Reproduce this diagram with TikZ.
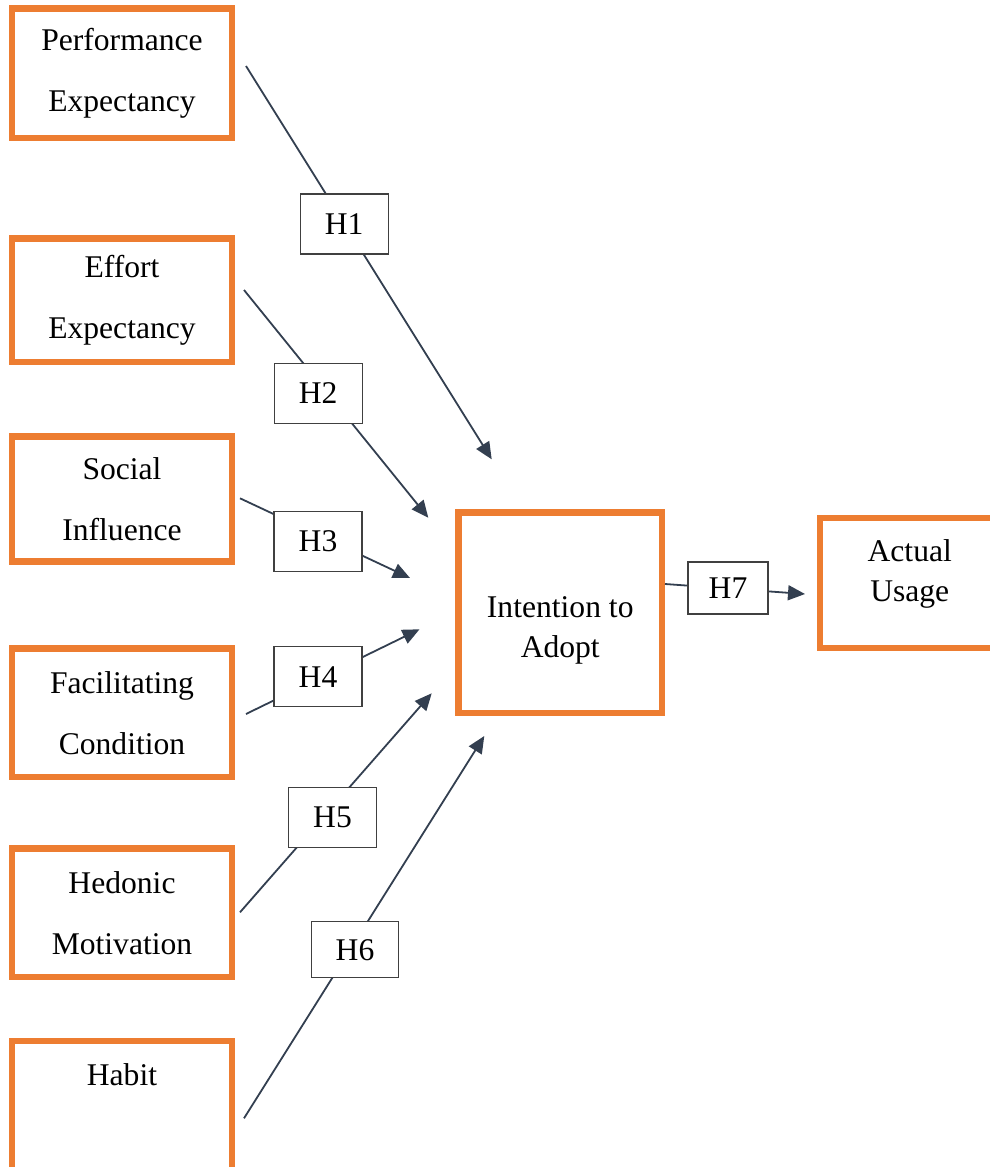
\documentclass[tikz,border=0pt]{standalone}
\usepackage{fontspec}
\setmainfont{Liberation Serif}
\usetikzlibrary{arrows.meta}
\definecolor{boxorange}{HTML}{ED7D31}
\definecolor{linkblue}{HTML}{333F50}
\begin{document}
\begin{tikzpicture}[x=1pt,y=-1pt,
	construct/.style={draw=boxorange,line width=6.5pt,fill=white,inner sep=0pt,
		minimum width=220pt,align=center,font=\fontsize{31.6}{61}\selectfont},
	label text/.style={align=center,inner sep=0pt,font=\fontsize{31.6}{40}\selectfont},
	hyp/.style={draw=black!75,line width=1.2pt,fill=white,inner sep=0pt,
		minimum width=88pt,minimum height=60pt,font=\fontsize{31.6}{38}\selectfont},
	link/.style={draw=linkblue,line width=1.8pt,-{Triangle[length=17pt,width=15pt]}}]
	\useasboundingbox (0,0) rectangle (990,1167);

	% determinants
	\node[construct,minimum height=129.5pt] (pe) at (122,73.25) {Performance\\Expectancy};
	\node[construct,minimum height=123.5pt] (ee) at (122,300.25) {Effort\\Expectancy};
	\node[construct,minimum height=125pt] (si) at (122,499) {Social\\Influence};
	\node[construct,minimum height=128.5pt] (fc) at (122,712.75) {Facilitating\\Condition};
	\node[construct,minimum height=128.5pt] (hm) at (122,912.75) {Hedonic\\Motivation};
	\node[construct,minimum height=129pt] (hb) at (122,1105.5) {Habit\\\mbox{}};

	% intention and usage
	\node[construct,minimum width=203.5pt,minimum height=200.3pt] (ita) at (560.25,612.85) {};
	\node[label text] (ita-text) at (560.25,630.5) {Intention to\\Adopt};
	\node[construct,minimum width=179.5pt,minimum height=130pt] (au) at (909.75,583) {};
	\node[label text] (au-text) at (909.75,573.5) {Actual\\Usage};

	\coordinate (pe-out) at (246,66);     \coordinate (ita-in1) at (491.7,459.3);
	\coordinate (ee-out) at (244,290);    \coordinate (ita-in2) at (428.3,517.7);
	\coordinate (si-out) at (240,498.3);  \coordinate (ita-in3) at (410,578);
	\coordinate (fc-out) at (246,714);    \coordinate (ita-in4) at (419.5,629.3);
	\coordinate (hm-out) at (240,912.3);  \coordinate (ita-in5) at (431.7,693.3);
	\coordinate (hb-out) at (244,1118.3); \coordinate (ita-in6) at (484.3,736);
	\coordinate (ita-out) at (665,584);   \coordinate (au-in) at (805,594);

	\draw[link] (pe-out) -- (ita-in1);
	\draw[link] (ee-out) -- (ita-in2);
	\draw[link] (si-out) -- (ita-in3);
	\draw[link] (fc-out) -- (ita-in4);
	\draw[link] (hm-out) -- (ita-in5);
	\draw[link] (hb-out) -- (ita-in6);
	\draw[link] (ita-out) -- (au-in);

	% hypotheses
	\node[hyp] (h1) at (344.15,224) {H1};
	\node[hyp] (h2) at (318.15,393.3) {H2};
	\node[hyp] (h3) at (318,541.35) {H3};
	\node[hyp] (h4) at (318,676.7) {H4};
	\node[hyp] (h5) at (332.5,817.5) {H5};
	\node[hyp,minimum width=86.6pt,minimum height=56pt] (h6) at (355,949.7) {H6};
	\node[hyp,minimum width=80pt,minimum height=52pt] (h7) at (728,588) {H7};
\end{tikzpicture}
\end{document}
